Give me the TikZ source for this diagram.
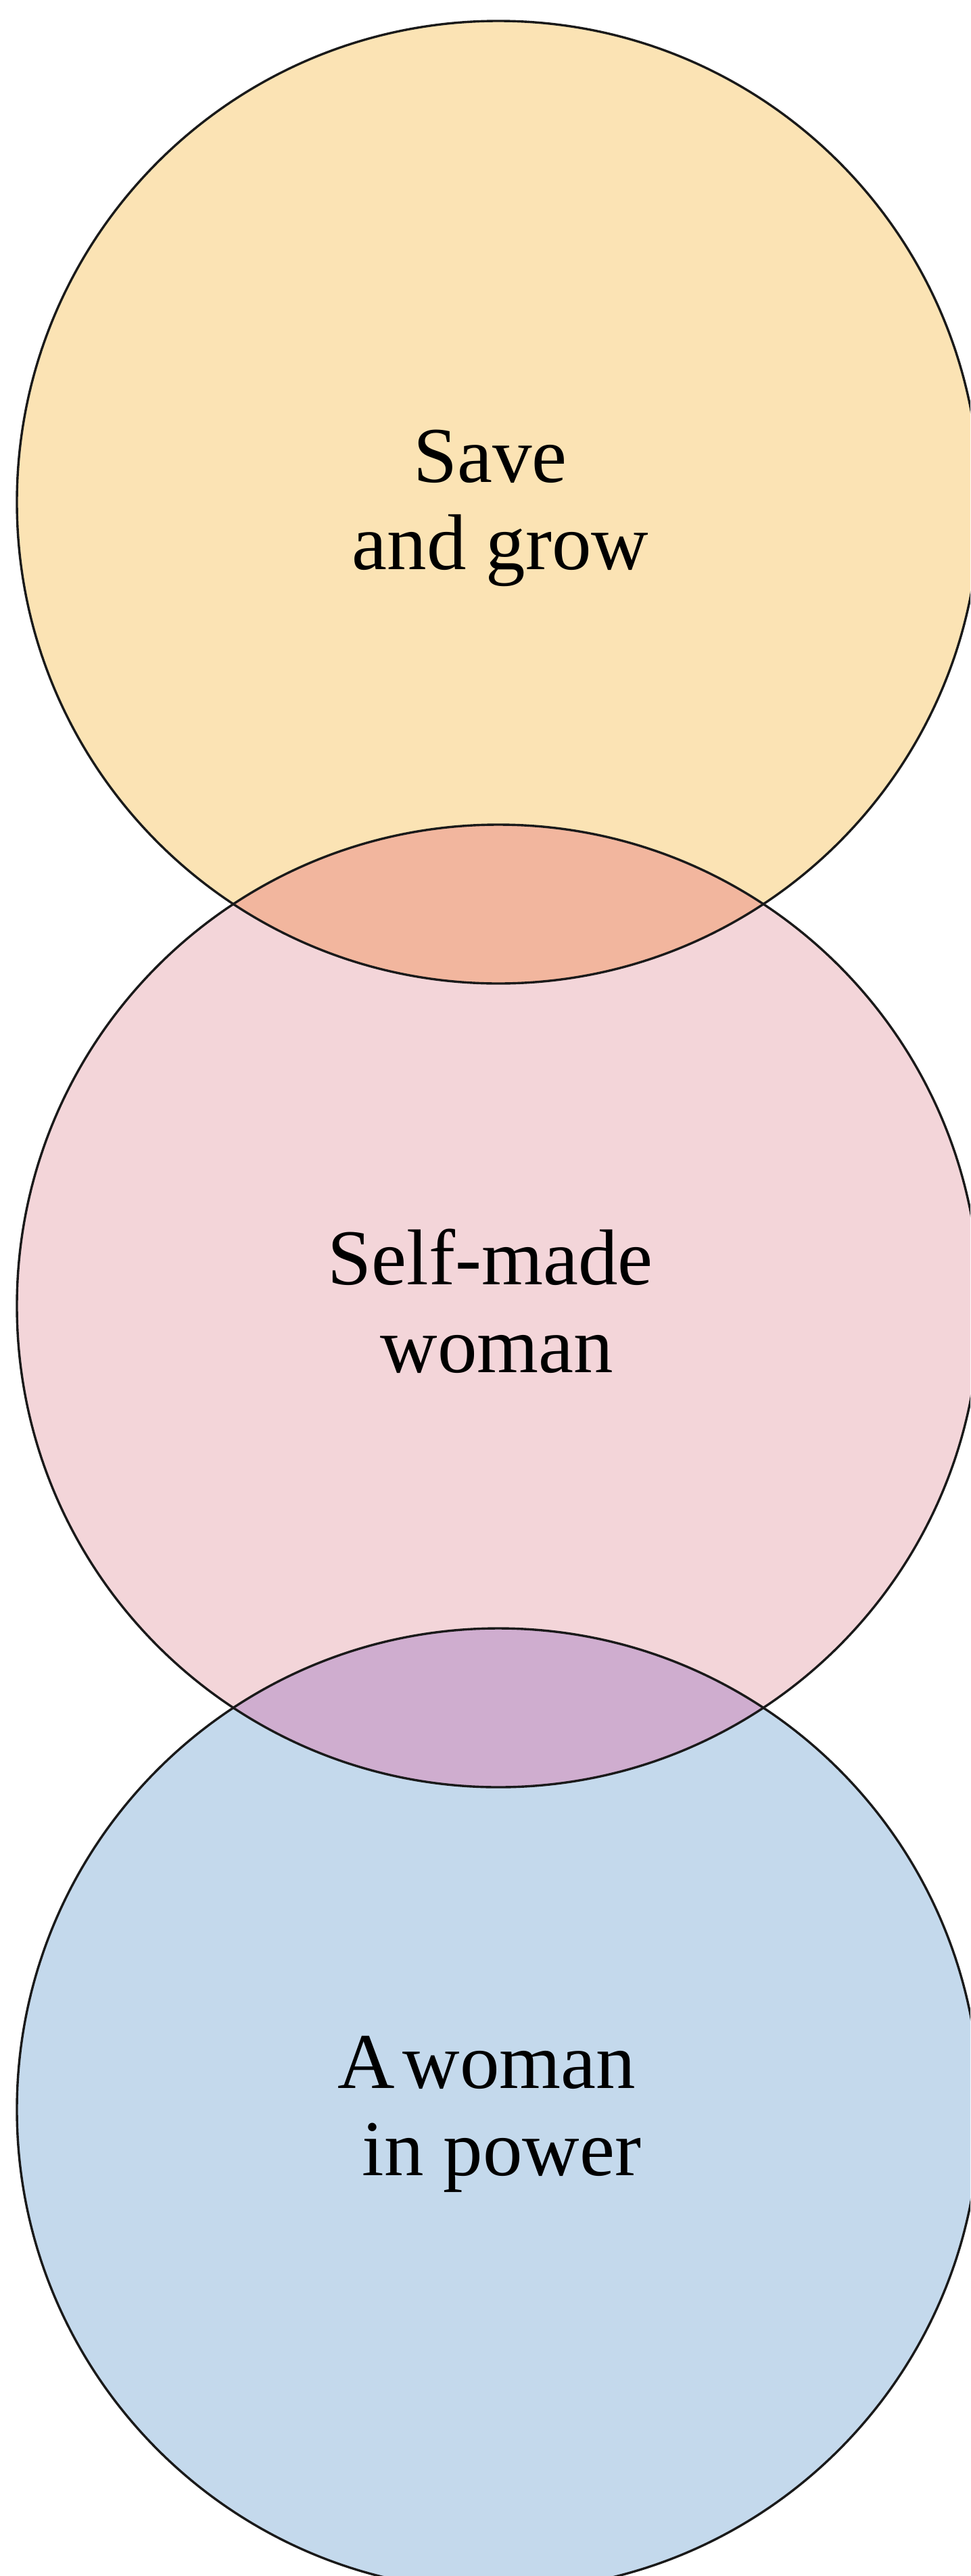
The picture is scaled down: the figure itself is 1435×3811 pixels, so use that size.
\documentclass[tikz,border=0pt]{standalone}
\usepackage{fontspec}
\setmainfont{Liberation Serif}
\definecolor{cyellow}{HTML}{FBE3B4}
\definecolor{cpink}{HTML}{F3D5D9}
\definecolor{cblue}{HTML}{C4D9EC}
\definecolor{corange}{HTML}{F2B69E}
\definecolor{cpurple}{HTML}{CFADCF}
\definecolor{cline}{HTML}{1A1A1A}
\tikzset{
  ring/.style={draw=cline, line width=3.4pt},
  lbl/.style={anchor=base, inner sep=0pt, font=\fontsize{117}{129}\selectfont, text=black}
}
\begin{document}
\begin{tikzpicture}[x=1pt,y=-1pt]
\useasboundingbox (0,0) rectangle (1435,3811);
\clip (0,0) rectangle (1435,3811);
\coordinate (c1) at (737,743);
\coordinate (c2) at (737,1932);
\coordinate (c3) at (737,3121);
\def\R{712}
% fills
\fill[cyellow] (c1) circle[radius=\R];
\fill[cpink] (c2) circle[radius=\R];
\fill[cblue] (c3) circle[radius=\R];
\begin{scope}
  \clip (c1) circle[radius=\R];
  \fill[corange] (c2) circle[radius=\R];
\end{scope}
\begin{scope}
  \clip (c2) circle[radius=\R];
  \fill[cpurple] (c3) circle[radius=\R];
\end{scope}
% outlines
\draw[ring] (c1) circle[radius=\R];
\draw[ring] (c2) circle[radius=\R];
\draw[ring] (c3) circle[radius=\R];
% labels
\node[lbl] (t1a) at (725,713) {Save};
\node[lbl] (t1b) at (740,842) {and grow};
\node[lbl] (t2a) at (725,1900) {Self-made};
\node[lbl] (t2b) at (735,2030) {woman};
\node[lbl] (t3a) at (720,3089) {A\hspace{0.1em}woman};
\node[lbl] (t3b) at (742,3218) {in power};
\end{tikzpicture}
\end{document}
